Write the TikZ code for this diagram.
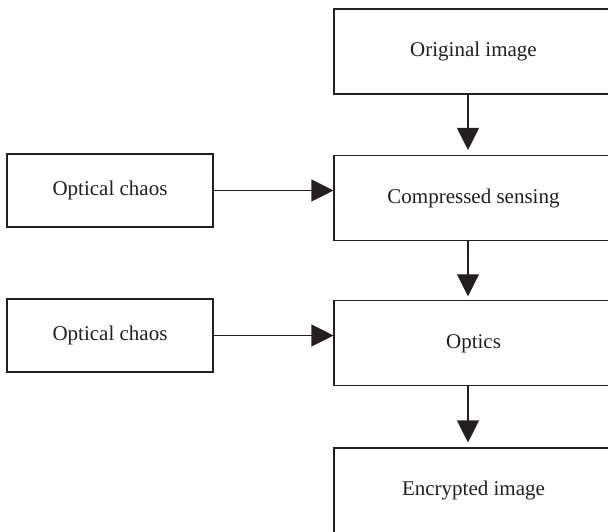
\documentclass[tikz,border=0pt]{standalone}
\usepackage{fontspec}
\setmainfont{Liberation Serif}
\usetikzlibrary{arrows.meta}
\definecolor{ink}{HTML}{231F20}
\tikzset{
  x=1pt, y=-1pt,
  box/.style={draw=ink, line width=1.1pt, fill=white, inner sep=0pt,
    font=\fontsize{21}{25}\selectfont, text=ink},
  mainbox/.style={box, minimum width=279pt, minimum height=85pt},
  sidebox/.style={box, minimum width=206pt, minimum height=73pt},
  flow/.style={draw=ink, line width=1.1pt,
    -{Triangle[length=22pt, width=22pt]}},
}
\begin{document}
\begin{tikzpicture}
  \useasboundingbox (0,0) rectangle (608,532);
  \begin{scope}
    \clip (0,0) rectangle (608,532);
    % main column
    \node[mainbox] (orig)   at (473.5, 51.5) {Original image};
    \node[mainbox] (cs)     at (473.5, 198)  {Compressed sensing};
    \node[mainbox] (optics) at (473.5, 343.3){Optics};
    \node[mainbox] (enc)    at (473.5, 490.5){Encrypted image};
    % side inputs
    \node[sidebox] (chaosA) at (110, 190.5) {Optical chaos};
    \node[sidebox] (chaosB) at (110, 335.5) {Optical chaos};
    % column of the vertical arrows
    \coordinate (ax) at (468, 0);
    \draw[flow, shorten >=5pt] (orig.south -| ax) -- (cs.north -| ax);
    \draw[flow, shorten >=4pt] (cs.south -| ax) -- (optics.north -| ax);
    \draw[flow, shorten >=5pt] (optics.south -| ax) -- (enc.north -| ax);
    \draw[flow] (chaosA.east) -- (chaosA.east -| cs.west);
    \draw[flow] (chaosB.east) -- (chaosB.east -| optics.west);
  \end{scope}
\end{tikzpicture}
\end{document}
